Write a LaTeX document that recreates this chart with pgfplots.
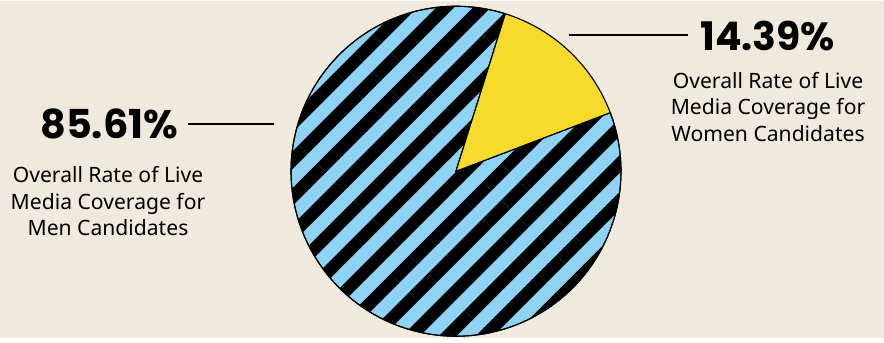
\documentclass[border=0pt]{standalone}
\usepackage{fontspec}
\setmainfont{Noto Sans}
\newfontfamily\numfont{Poppins}
\usepackage{pgfplots}
\usepackage{pgfplotstable}
\pgfplotsset{compat=1.18}
\usetikzlibrary{patterns.meta}

\definecolor{bg}{RGB}{240,234,222}
\definecolor{sky}{RGB}{142,211,243}
\definecolor{yel}{RGB}{246,219,45}

\pgfplotstableread{
group share
Men 85.61
Women 14.39
}\piedata

\begin{document}
\begin{tikzpicture}
\pgfplotstablegetelem{0}{share}\of\piedata \let\menshare\pgfplotsretval
\pgfplotstablegetelem{1}{share}\of\piedata \let\womenshare\pgfplotsretval
\pgfmathsetmacro{\startang}{72.6}
\pgfmathsetmacro{\womenend}{\startang-3.6*\womenshare}
\pgfmathsetmacro{\menend}{\startang+3.6*\menshare}
\begin{axis}[scale only axis, width=884bp, height=337bp,
  xmin=0, xmax=884, ymin=0, ymax=337, hide axis, clip=false]
\fill[bg] (axis cs:0,0) rectangle (axis cs:884,337);
% Men slice (striped)
\addplot[draw=black, line width=1.1bp, preaction={fill=sky},
  pattern={Lines[angle=45,distance=26bp,line width=12.5bp]}, pattern color=black,
  domain=\startang:\menend, samples=240, variable=\t]
  ({456+165*cos(\t)},{167+165*sin(\t)}) -- (axis cs:456,167) -- cycle;
% Women slice (yellow)
\addplot[draw=black, line width=1.1bp, fill=yel,
  domain=\womenend:\startang, samples=60, variable=\t]
  ({456+165*cos(\t)},{167+165*sin(\t)}) -- (axis cs:456,167) -- cycle;
% leader lines
\addplot[black, line width=1.6bp, no marks] coordinates {(188,214) (274,214)};
\addplot[black, line width=1.6bp, no marks] coordinates {(569,303) (688,303)};
% labels
\node[anchor=base west, inner sep=0pt, font=\numfont\bfseries\fontsize{40}{40}\selectfont]
  at (axis cs:40,200) {85.61\%};
\node[anchor=base west, inner sep=0pt, font=\numfont\bfseries\fontsize{39.5}{40}\selectfont]
  at (axis cs:700,288) {14.39\%};
\node[anchor=base, inner sep=0pt, align=center, font=\fontsize{21.2}{27}\selectfont]
  at (axis cs:108,102.3) {Overall Rate of Live\\Media Coverage for\\Men Candidates};
\node[anchor=base, inner sep=0pt, align=center, font=\fontsize{21.2}{26.5}\selectfont]
  at (axis cs:768,197) {Overall Rate of Live\\Media Coverage for\\Women Candidates};
\end{axis}
\end{tikzpicture}
\end{document}
